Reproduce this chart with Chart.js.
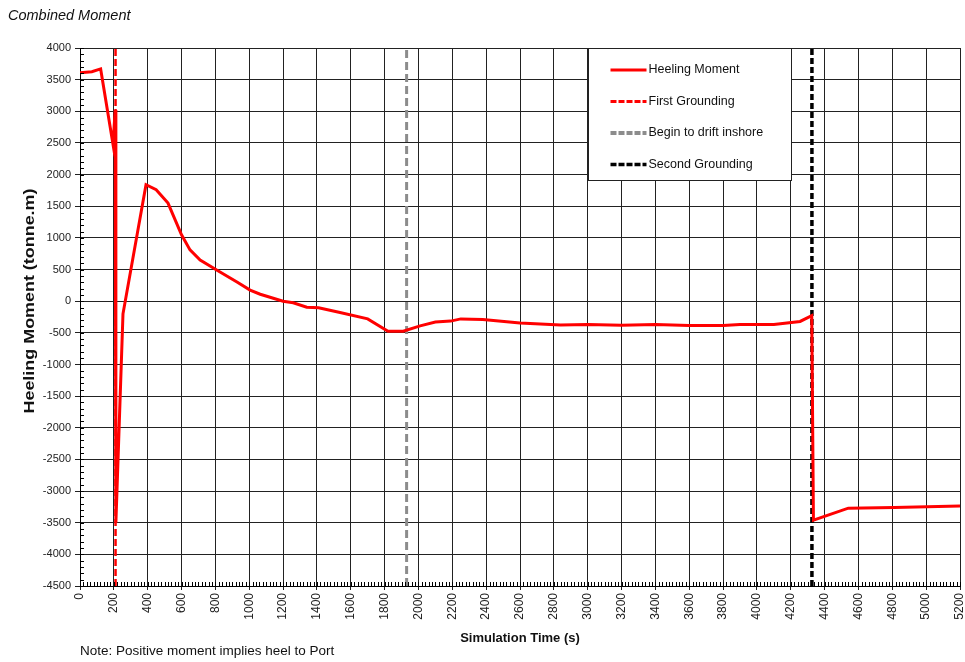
<!DOCTYPE html>
<html>
<head>
<meta charset="utf-8">
<script src="https://cdn.jsdelivr.net/npm/chart.js@4.4.1/dist/chart.umd.min.js"></script>
<style>
  body { margin: 0; background: #fff; }
  #wrap { position: relative; width: 965px; height: 662px; }
  #title { position: absolute; left: 8px; top: 7px; font: italic 14.5px "Liberation Sans", Arial, sans-serif; color: #111; }
  #note { position: absolute; left: 80px; top: 643px; font: 13.5px "Liberation Sans", Arial, sans-serif; color: #111; }
  #ytitle {
    position: absolute; left: -120px; top: 292px; width: 300px; height: 18px; line-height: 18px;
    text-align: center; font: bold 14px "Liberation Sans", Arial, sans-serif; color: #111;
    transform: rotate(-90deg) scaleX(1.28);
  }
</style>
</head>
<body>
<div id="wrap">
  <canvas id="chart" width="965" height="662"></canvas>
  <div id="title">Combined Moment</div>
  <div id="ytitle">Heeling Moment (tonne.m)</div>
  <div id="note">Note: Positive moment implies heel to Port</div>
</div>
<script>
// Heeling moment series (time in s, moment in tonne.m)
const heelTime = [0, 70, 122, 195, 208, 212, 254, 390, 450, 520, 600, 650, 710, 810, 930, 1005, 1065, 1200, 1260, 1340, 1410, 1530, 1700, 1820, 1910, 2010, 2100, 2190, 2250, 2380, 2600, 2720, 2840, 3000, 3200, 3400, 3600, 3800, 3900, 4100, 4255, 4324, 4334, 4540, 4810, 5200];
const heelMoment = [3610, 3625, 3670, 2480, 3020, -3500, -200, 1840, 1760, 1550, 1050, 810, 650, 490, 300, 175, 110, 0, -25, -95, -105, -175, -280, -475, -475, -390, -330, -315, -280, -290, -345, -360, -375, -370, -380, -370, -385, -385, -370, -370, -320, -230, -3460, -3270, -3260, -3235];

// Event times (s)
const firstGroundingTime = 210;
const driftTime = 1930;
const secondGroundingTime = 4325;

// Axis ranges
const xMin = 0, xMax = 5200, xStep = 200, xMinor = 20;
const yMin = -4500, yMax = 4000, yStep = 500, yMinor = 100;

const legendItems = [
  { text: "Heeling Moment", color: "#ff0000", dash: [], width: 3 },
  { text: "First Grounding", color: "#ff0000", dash: [6, 2], width: 3 },
  { text: "Begin to drift inshore", color: "#8c8c8c", dash: [6, 2], width: 4 },
  { text: "Second Grounding", color: "#000000", dash: [6, 2], width: 3.5 }
];

function vline(t) {
  return [{ x: t, y: yMin }, { x: t, y: yMax }];
}

const FONT = "'Liberation Sans', Arial, sans-serif";

// minor ticks + legend box drawn on the canvas
const extras = {
  id: "extras",
  afterDatasetsDraw(chart) {
    const ctx = chart.ctx;
    const xs = chart.scales.x, ys = chart.scales.y;
    const area = chart.chartArea;
    ctx.save();
    ctx.strokeStyle = "#000";
    ctx.lineWidth = 1;
    ctx.beginPath();
    for (let v = xMin; v <= xMax; v += xMinor) {
      const px = Math.round(xs.getPixelForValue(v)) + 0.5;
      ctx.moveTo(px, area.bottom);
      ctx.lineTo(px, area.bottom - 4);
    }
    for (let v = yMin; v <= yMax; v += yMinor) {
      const py = Math.round(ys.getPixelForValue(v)) + 0.5;
      ctx.moveTo(area.left, py);
      ctx.lineTo(area.left + 4, py);
    }
    ctx.stroke();

    // legend box between x = 3000 and 4200
    const lx0 = Math.round(xs.getPixelForValue(3000)) + 0.5;
    const lx1 = Math.round(xs.getPixelForValue(4200)) + 0.5;
    const ly0 = area.top + 0.5;
    const ly1 = area.top + 132.5;
    ctx.fillStyle = "#fff";
    ctx.fillRect(lx0, ly0, lx1 - lx0, ly1 - ly0);
    ctx.strokeStyle = "#222";
    ctx.strokeRect(lx0, ly0, lx1 - lx0, ly1 - ly0);

    ctx.font = "12.5px " + FONT;
    ctx.textBaseline = "middle";
    ctx.textAlign = "left";
    legendItems.forEach((it, i) => {
      const y = area.top + 22 + i * 31.5;
      ctx.beginPath();
      ctx.strokeStyle = it.color;
      ctx.lineWidth = it.width;
      ctx.setLineDash(it.dash);
      ctx.moveTo(lx0 + 22, y);
      ctx.lineTo(lx0 + 58, y);
      ctx.stroke();
      ctx.setLineDash([]);
      ctx.fillStyle = "#111";
      ctx.fillText(it.text, lx0 + 60, y);
    });
    ctx.restore();
  }
};

new Chart(document.getElementById("chart"), {
  type: "line",
  data: {
    datasets: [
      {
        label: "Heeling Moment",
        data: heelTime.map((t, i) => ({ x: t, y: heelMoment[i] })),
        borderColor: "#ff0000",
        borderWidth: 3,
        pointRadius: 0,
        tension: 0
      },
      {
        label: "First Grounding",
        data: vline(firstGroundingTime),
        borderColor: "#ff0000",
        borderWidth: 2.5,
        borderDash: [7, 3],
        pointRadius: 0
      },
      {
        label: "Begin to drift inshore",
        data: vline(driftTime),
        borderColor: "#8c8c8c",
        borderWidth: 3,
        borderDash: [8, 4],
        pointRadius: 0
      },
      {
        label: "Second Grounding",
        data: vline(secondGroundingTime),
        borderColor: "#000000",
        borderWidth: 3.5,
        borderDash: [6, 3],
        pointRadius: 0
      }
    ]
  },
  options: {
    responsive: false,
    animation: false,
    layout: { padding: { left: 18, top: 48, right: 5, bottom: 16 } },
    plugins: {
      legend: { display: false },
      tooltip: { enabled: false }
    },
    scales: {
      x: {
        type: "linear",
        min: xMin,
        max: xMax,
        ticks: {
          stepSize: xStep,
          maxRotation: 90,
          minRotation: 90,
          color: "#222",
          font: { family: FONT, size: 12 },
          padding: 3,
          callback: (v) => String(v)
        },
        grid: { color: "#222", lineWidth: 1, tickLength: 4 },
        border: { color: "#000" },
        title: {
          display: true,
          text: "Simulation Time (s)",
          color: "#111",
          font: { family: FONT, size: 13, weight: "bold" },
          padding: { top: 2, bottom: 0 }
        },
        afterFit(scale) {
          scale.height = 60;
          scale.paddingLeft = 0;
          scale.paddingRight = 0;
        }
      },
      y: {
        min: yMin,
        max: yMax,
        ticks: {
          stepSize: yStep,
          color: "#222",
          font: { family: FONT, size: 11 },
          padding: 4,
          callback: (v) => String(v)
        },
        grid: { color: "#222", lineWidth: 1, tickLength: 5 },
        border: { color: "#000" },
        afterFit(scale) {
          scale.width = 62;
          scale.paddingTop = 0;
          scale.paddingBottom = 0;
        }
      }
    }
  },
  plugins: [extras]
});
</script>
</body>
</html>
